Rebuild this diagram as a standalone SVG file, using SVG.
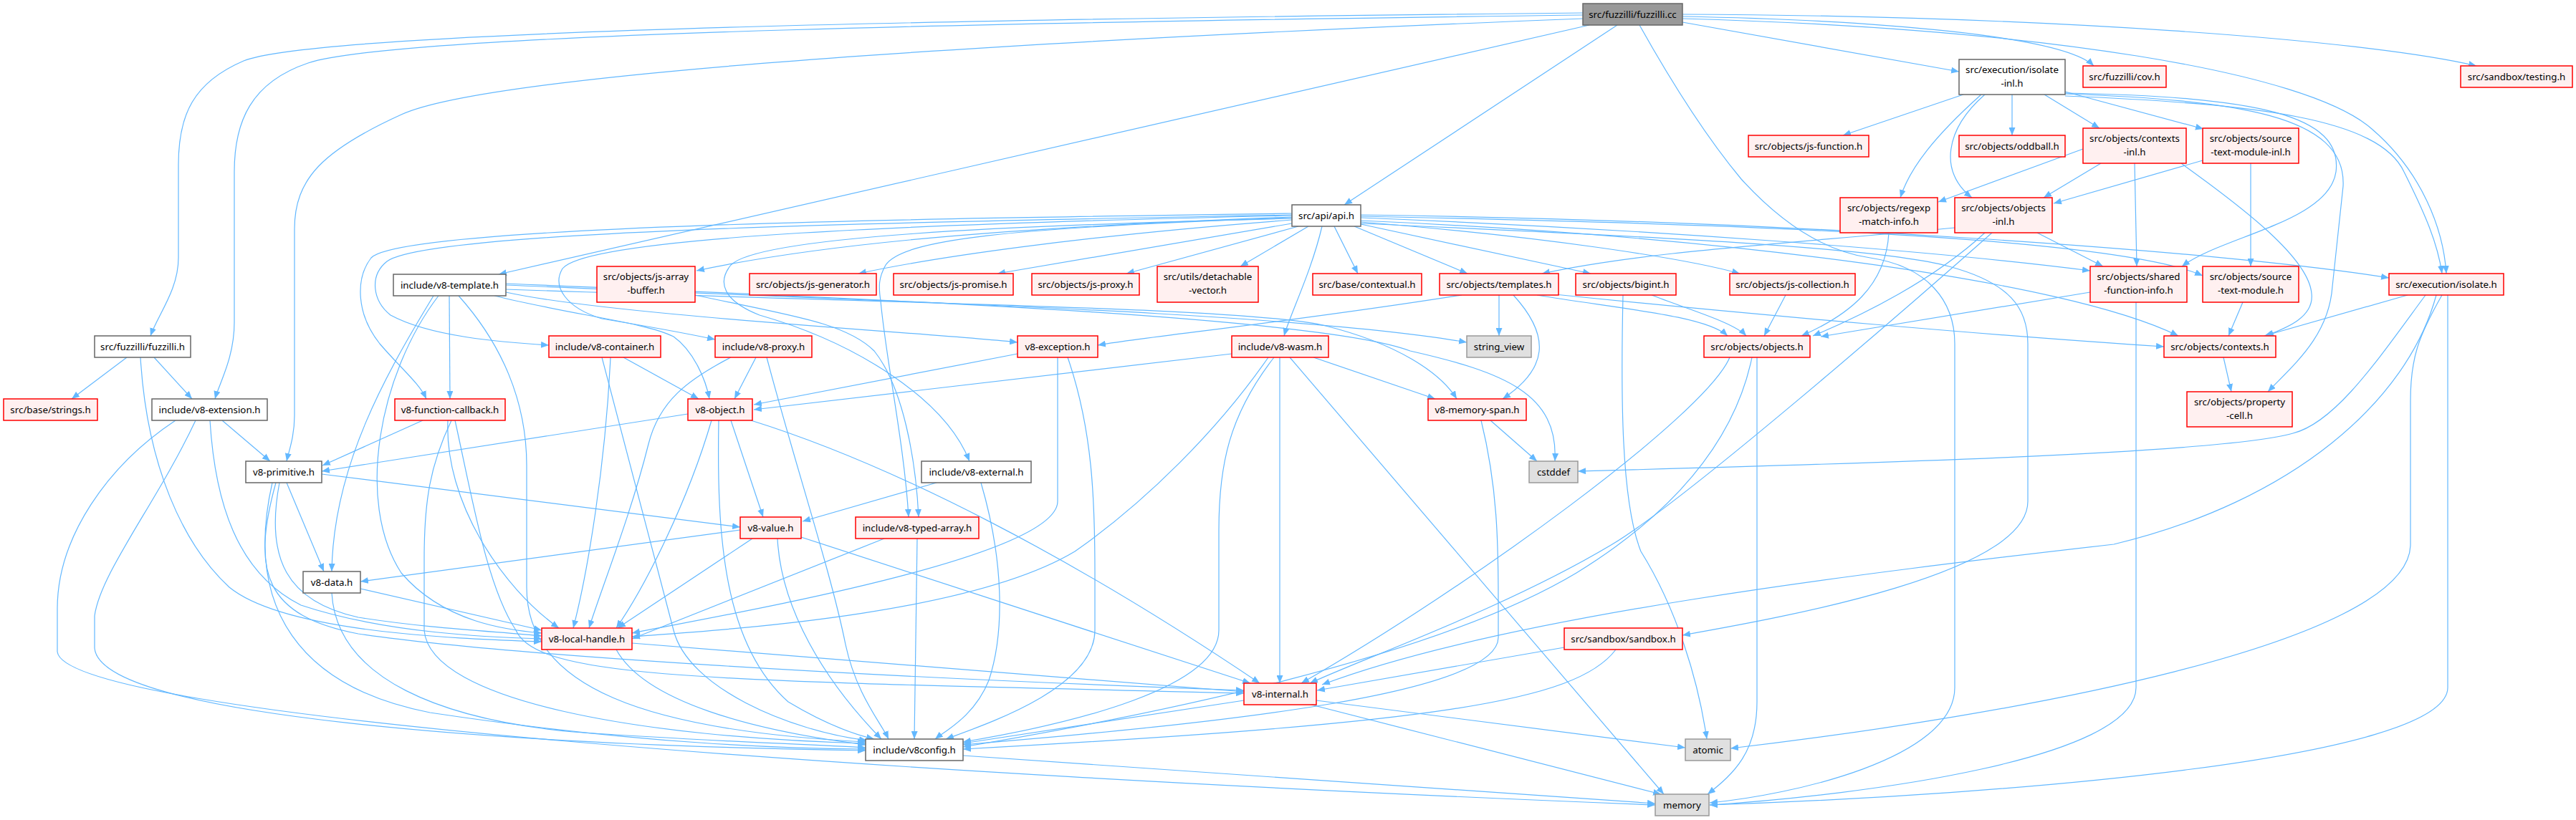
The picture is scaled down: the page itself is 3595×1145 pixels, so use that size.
<svg xmlns="http://www.w3.org/2000/svg" width="3595" height="1145" viewBox="0 0 3595 1145">
<style>
.node rect{stroke-width:1.5}
.root rect{fill:#999999;stroke:#666666}
.plain rect{fill:#ffffff;stroke:#666666}
.trunc rect{fill:#fff0f0;stroke:#ff0000}
.extn rect{fill:#e0e0e0;stroke:#999999}
text{font-family:"Noto Sans","DejaVu Sans",sans-serif;font-size:13.33px;text-anchor:middle;fill:#000000}
.e{fill:none;stroke:#63b8ff;stroke-width:1.2;marker-end:url(#a)}
</style>
<defs>
<marker id="a" viewBox="0 0 11 9" refX="11" refY="4.5" markerWidth="11" markerHeight="9" markerUnits="userSpaceOnUse" orient="auto"><path d="M0,0 L11,4.5 L0,9 z" fill="#63b8ff"/></marker>
</defs>
<rect x="0" y="0" width="3595" height="1145" fill="#ffffff"/>
<g id="edges">
<path class="e" d="M2209,18 C1500,25 450,40 340,85 C270,115 249,160 249,230 L249,360 C249,405 220,440 210,469"/>
<path class="e" d="M2209,21 C1500,30 560,45 430,88 C350,115 327,170 327,240 L327,450 C327,500 306,535 300,557"/>
<path class="e" d="M2209,26 C1600,50 700,95 560,160 C450,210 411,250 411,320 L411,580 C411,610 403,630 400,644"/>
<path class="e" d="M2218,35 L696,383"/>
<path class="e" d="M2257,35 L1876,286"/>
<path class="e" d="M2348,31 L2734,100"/>
<path class="e" d="M2348,23 C2620,28 2880,50 2922,92"/>
<path class="e" d="M2348,20 C2850,22 3300,55 3456,92"/>
<path class="e" d="M2348,26 C2850,40 3220,100 3310,180 C3380,240 3410,320 3414,382"/>
<path class="e" d="M2288,35 C2330,110 2380,190 2430,250 C2480,305 2540,350 2610,360 C2690,372 2728,420 2728,480 L2728,960 C2728,1060 2500,1110 2386,1121"/>
<path class="e" d="M2740,132 L2572,189"/>
<path class="e" d="M2808,132 L2808,189"/>
<path class="e" d="M2853,132 L2930,179"/>
<path class="e" d="M2882,128 L3075,180"/>
<path class="e" d="M2765,132 C2700,190 2665,235 2652,276"/>
<path class="e" d="M2770,132 C2715,180 2705,240 2752,276"/>
<path class="e" d="M2882,130 C3150,135 3270,160 3260,240 C3250,310 3100,330 3045,372"/>
<path class="e" d="M2882,131 C3120,140 3275,160 3270,260 L3255,400 C3250,470 3200,510 3165,547"/>
<path class="e" d="M2882,134 C3150,145 3320,165 3355,240 C3385,300 3402,340 3408,382"/>
<path class="e" d="M2907,208 L2705,282"/>
<path class="e" d="M2932,228 L2852,276"/>
<path class="e" d="M2979,228 L2982,372"/>
<path class="e" d="M3044,228 C3130,290 3222,360 3226,410 C3230,445 3185,460 3162,469"/>
<path class="e" d="M3074,224 L2866,284"/>
<path class="e" d="M3141,228 L3141,372"/>
<path class="e" d="M2636,325 C2632,400 2580,440 2514,469"/>
<path class="e" d="M2770,325 C2700,390 2600,440 2530,469"/>
<path class="e" d="M2843,325 L2935,372"/>
<path class="e" d="M2780,325 C2650,440 2350,700 2250,760 C2100,850 1900,920 1828,954"/>
<path class="e" d="M2728,318 C2500,340 2300,350 2152,382"/>
<path class="e" d="M1845,316 C1830,380 1800,440 1792,469"/>
<path class="e" d="M1862,316 L1895,382"/>
<path class="e" d="M1890,316 L2048,382"/>
<path class="e" d="M1899,313 L2220,382"/>
<path class="e" d="M1826,316 L1731,372"/>
<path class="e" d="M1812,316 L1572,382"/>
<path class="e" d="M1803,312 L1392,382"/>
<path class="e" d="M1803,307 C1500,330 1300,360 1198,382"/>
<path class="e" d="M1803,303 C1400,318 1150,340 972,378"/>
<path class="e" d="M1803,300 C1300,310 600,320 540,365 C515,385 520,420 545,440 C600,470 700,478 766,482"/>
<path class="e" d="M1803,298 C1300,305 560,315 518,360 C495,390 498,440 530,480 C560,515 585,535 595,557"/>
<path class="e" d="M1803,301 C1300,312 820,330 785,375 C770,400 790,430 840,445 C900,455 960,466 998,474"/>
<path class="e" d="M1803,305 C1400,315 1060,330 1020,370 C1000,395 1010,420 1060,440 C1200,480 1320,560 1353,644"/>
<path class="e" d="M1803,304 C1400,318 1260,335 1236,370 C1226,388 1226,400 1229,420 C1236,500 1262,620 1268,722"/>
<path class="e" d="M1899,310 C2150,330 2350,360 2428,382"/>
<path class="e" d="M1899,304 C2300,320 2700,350 2917,378"/>
<path class="e" d="M1899,302 C2400,312 2950,330 3074,385"/>
<path class="e" d="M1899,300 C2500,308 3100,350 3334,388"/>
<path class="e" d="M1899,308 C2400,330 2880,390 3040,469"/>
<path class="e" d="M1899,312 C2300,330 2620,345 2720,372 C2805,395 2830,430 2830,480 L2830,700 C2830,800 2500,860 2348,887"/>
<path class="e" d="M627,413 L628,557"/>
<path class="e" d="M605,413 C540,520 465,650 463,798"/>
<path class="e" d="M612,413 C530,520 495,700 560,800 C620,870 710,880 756,884"/>
<path class="e" d="M640,413 C700,480 735,560 735,650 L735,820 C735,960 900,1020 1208,1036"/>
<path class="e" d="M690,413 C800,440 900,450 940,470 C968,490 985,530 990,557"/>
<path class="e" d="M706,408 C850,440 1300,465 1420,478"/>
<path class="e" d="M706,404 C1300,425 1750,430 1850,455 C1950,480 2010,520 2033,557"/>
<path class="e" d="M706,398 C1200,420 1800,435 2047,478"/>
<path class="e" d="M706,396 C1300,420 1850,445 1968,490 C2100,520 2175,550 2170,644"/>
<path class="e" d="M177,499 L100,557"/>
<path class="e" d="M215,499 L268,557"/>
<path class="e" d="M196,499 C205,650 255,760 320,820 C400,885 650,892 756,896"/>
<path class="e" d="M310,587 L377,644"/>
<path class="e" d="M293,587 C300,700 330,800 420,845 C540,885 690,890 756,892"/>
<path class="e" d="M273,587 C220,700 140,800 132,860 L132,905 C140,1000 700,1040 1208,1048"/>
<path class="e" d="M245,587 C150,650 80,750 80,850 L80,910 C90,1000 1200,1080 2310,1124"/>
<path class="e" d="M590,587 L450,650"/>
<path class="e" d="M625,587 C620,700 700,820 780,877"/>
<path class="e" d="M630,587 C600,650 592,700 592,780 L592,880 C600,980 900,1030 1208,1038"/>
<path class="e" d="M635,587 C660,700 680,820 720,880 C750,950 1000,950 1736,968"/>
<path class="e" d="M960,578 L449,658"/>
<path class="e" d="M1020,587 L1065,722"/>
<path class="e" d="M993,587 C960,700 900,820 860,877"/>
<path class="e" d="M1003,587 C1000,750 1010,900 1100,980 C1150,1010 1190,1025 1220,1032"/>
<path class="e" d="M1048,587 C1250,650 1500,780 1758,954"/>
<path class="e" d="M449,662 L1033,736"/>
<path class="e" d="M400,674 L452,798"/>
<path class="e" d="M390,674 C370,780 400,840 500,862 C600,878 700,882 756,888"/>
<path class="e" d="M385,674 C350,800 370,860 500,885 C700,915 1200,945 1736,964"/>
<path class="e" d="M380,674 C340,850 420,960 600,995 C900,1040 1100,1045 1208,1046"/>
<path class="e" d="M1033,740 L503,812"/>
<path class="e" d="M1050,752 L862,877"/>
<path class="e" d="M1118,750 L1745,954"/>
<path class="e" d="M1085,752 C1090,850 1150,950 1230,1032"/>
<path class="e" d="M503,822 L756,880"/>
<path class="e" d="M463,828 C470,950 620,1005 800,1022 C1000,1036 1150,1040 1208,1044"/>
<path class="e" d="M882,898 L1736,966"/>
<path class="e" d="M860,907 C900,980 1050,1020 1208,1040"/>
<path class="e" d="M870,499 L975,557"/>
<path class="e" d="M852,499 C845,650 820,800 800,877"/>
<path class="e" d="M840,499 C880,650 920,800 940,880 C960,960 1100,1020 1210,1034"/>
<path class="e" d="M1055,499 L1025,557"/>
<path class="e" d="M1020,499 C960,530 920,560 905,620 C880,720 840,820 822,877"/>
<path class="e" d="M1070,499 C1110,650 1160,800 1180,900 C1195,970 1230,1010 1240,1032"/>
<path class="e" d="M1420,494 L1052,565"/>
<path class="e" d="M1476,499 L1476,700 C1476,780 1000,860 882,884"/>
<path class="e" d="M1490,499 C1525,600 1528,700 1528,800 L1528,880 C1528,960 1380,1010 1320,1032"/>
<path class="e" d="M1719,494 L1052,572"/>
<path class="e" d="M1770,499 C1700,600 1600,700 1500,770 C1350,860 1000,880 882,889"/>
<path class="e" d="M1778,499 C1715,580 1701,650 1701,740 L1701,880 C1701,960 1500,1010 1344,1036"/>
<path class="e" d="M1786,499 L1786,954"/>
<path class="e" d="M1800,499 L2322,1109"/>
<path class="e" d="M1833,499 L2003,557"/>
<path class="e" d="M2080,587 L2145,644"/>
<path class="e" d="M2067,587 C2090,680 2091,760 2091,840 L2091,890 C2091,970 1700,1010 1344,1040"/>
<path class="e" d="M2040,412 C1800,450 1600,470 1532,482"/>
<path class="e" d="M2092,412 L2092,469"/>
<path class="e" d="M2112,412 C2165,470 2160,515 2097,557"/>
<path class="e" d="M2145,412 C2250,430 2380,440 2411,469"/>
<path class="e" d="M2160,410 C2450,440 2800,470 3020,484"/>
<path class="e" d="M2265,412 C2262,550 2262,700 2290,770 C2340,850 2370,950 2382,1032"/>
<path class="e" d="M2305,412 C2350,430 2420,450 2437,469"/>
<path class="e" d="M2492,412 L2462,469"/>
<path class="e" d="M2917,408 L2541,470"/>
<path class="e" d="M2981,422 L2981,960 C2981,1060 2600,1110 2386,1124"/>
<path class="e" d="M3130,422 L3110,469"/>
<path class="e" d="M2414,499 C2380,580 2050,820 1816,954"/>
<path class="e" d="M2445,499 C2420,620 2330,720 2200,800 C2000,920 1600,1000 1344,1043"/>
<path class="e" d="M2452,499 L2452,980 C2452,1050 2420,1080 2383,1109"/>
<path class="e" d="M3103,499 L3114,547"/>
<path class="e" d="M3360,412 L3160,469"/>
<path class="e" d="M3385,412 C3320,500 3260,590 3200,605 C3100,635 2500,650 2202,658"/>
<path class="e" d="M3400,412 C3360,560 3200,700 2950,760 C2600,800 2100,860 1845,956"/>
<path class="e" d="M3408,412 C3375,470 3364,500 3364,560 L3364,760 C3364,900 2800,1000 2415,1045"/>
<path class="e" d="M3416,412 L3416,960 C3416,1060 2800,1110 2386,1124"/>
<path class="e" d="M2183,904 L1838,964"/>
<path class="e" d="M2255,907 C2200,980 2000,1010 1344,1046"/>
<path class="e" d="M1736,978 L1344,1038"/>
<path class="e" d="M1837,978 L2352,1044"/>
<path class="e" d="M1830,984 L2318,1109"/>
<path class="e" d="M1344,1055 L2310,1122"/>
<path class="e" d="M1307,674 L1120,728"/>
<path class="e" d="M1369,674 C1400,780 1403,880 1380,950 C1360,1000 1320,1020 1305,1032"/>
<path class="e" d="M1234,752 L882,892"/>
<path class="e" d="M1280,752 L1276,1032"/>
<path class="e" d="M970,412 C1100,440 1180,450 1220,490 C1260,540 1278,640 1282,722"/>
</g>
<g id="n_fuzzilli_cc" class="node root"><rect x="2209" y="5" width="139" height="30"/><text x="2278.5" y="24.7">src/fuzzilli/fuzzilli.cc</text></g>
<g id="n_isolate_inl" class="node plain"><rect x="2734" y="83" width="148" height="49"/><text x="2808" y="102">src/execution/isolate</text><text x="2808" y="120.5">-inl.h</text></g>
<g id="n_cov" class="node trunc"><rect x="2907" y="92" width="116" height="30"/><text x="2965" y="111.7">src/fuzzilli/cov.h</text></g>
<g id="n_testing" class="node trunc"><rect x="3434" y="92" width="156" height="30"/><text x="3512" y="111.7">src/sandbox/testing.h</text></g>
<g id="n_js_function" class="node trunc"><rect x="2440" y="189" width="168" height="30"/><text x="2524" y="208.7">src/objects/js-function.h</text></g>
<g id="n_oddball" class="node trunc"><rect x="2734" y="189" width="148" height="30"/><text x="2808" y="208.7">src/objects/oddball.h</text></g>
<g id="n_contexts_inl" class="node trunc"><rect x="2907" y="179" width="144" height="49"/><text x="2979" y="198">src/objects/contexts</text><text x="2979" y="216.5">-inl.h</text></g>
<g id="n_stm_inl" class="node trunc"><rect x="3074" y="179" width="134" height="49"/><text x="3141" y="198">src/objects/source</text><text x="3141" y="216.5">-text-module-inl.h</text></g>
<g id="n_api" class="node plain"><rect x="1803" y="286" width="96" height="30"/><text x="1851" y="305.7">src/api/api.h</text></g>
<g id="n_regexp" class="node trunc"><rect x="2568" y="276" width="136" height="49"/><text x="2636" y="295">src/objects/regexp</text><text x="2636" y="313.5">-match-info.h</text></g>
<g id="n_objects_inl" class="node trunc"><rect x="2728" y="276" width="136" height="49"/><text x="2796" y="295">src/objects/objects</text><text x="2796" y="313.5">-inl.h</text></g>
<g id="n_v8_template" class="node plain"><rect x="549" y="383" width="157" height="30"/><text x="627.5" y="402.7">include/v8-template.h</text></g>
<g id="n_js_array_buffer" class="node trunc"><rect x="833" y="372" width="137" height="50"/><text x="901.5" y="391">src/objects/js-array</text><text x="901.5" y="409.5">-buffer.h</text></g>
<g id="n_js_generator" class="node trunc"><rect x="1046" y="382" width="177" height="30"/><text x="1134.5" y="401.7">src/objects/js-generator.h</text></g>
<g id="n_js_promise" class="node trunc"><rect x="1247" y="382" width="167" height="30"/><text x="1330.5" y="401.7">src/objects/js-promise.h</text></g>
<g id="n_js_proxy" class="node trunc"><rect x="1440" y="382" width="150" height="30"/><text x="1515" y="401.7">src/objects/js-proxy.h</text></g>
<g id="n_detachable" class="node trunc"><rect x="1615" y="372" width="141" height="50"/><text x="1685.5" y="391">src/utils/detachable</text><text x="1685.5" y="409.5">-vector.h</text></g>
<g id="n_contextual" class="node trunc"><rect x="1832" y="382" width="152" height="30"/><text x="1908" y="401.7">src/base/contextual.h</text></g>
<g id="n_templates" class="node trunc"><rect x="2009" y="382" width="166" height="30"/><text x="2092" y="401.7">src/objects/templates.h</text></g>
<g id="n_bigint" class="node trunc"><rect x="2199" y="382" width="140" height="30"/><text x="2269" y="401.7">src/objects/bigint.h</text></g>
<g id="n_js_collection" class="node trunc"><rect x="2414" y="382" width="175" height="30"/><text x="2501.5" y="401.7">src/objects/js-collection.h</text></g>
<g id="n_sfi" class="node trunc"><rect x="2917" y="372" width="135" height="50"/><text x="2984.5" y="391">src/objects/shared</text><text x="2984.5" y="409.5">-function-info.h</text></g>
<g id="n_stm" class="node trunc"><rect x="3074" y="372" width="134" height="50"/><text x="3141" y="391">src/objects/source</text><text x="3141" y="409.5">-text-module.h</text></g>
<g id="n_isolate_h" class="node trunc"><rect x="3334" y="382" width="160" height="30"/><text x="3414" y="401.7">src/execution/isolate.h</text></g>
<g id="n_fuzzilli_h" class="node plain"><rect x="132" y="469" width="134" height="30"/><text x="199" y="488.7">src/fuzzilli/fuzzilli.h</text></g>
<g id="n_v8_container" class="node trunc"><rect x="766" y="469" width="156" height="30"/><text x="844" y="488.7">include/v8-container.h</text></g>
<g id="n_v8_proxy" class="node trunc"><rect x="998" y="469" width="135" height="30"/><text x="1065.5" y="488.7">include/v8-proxy.h</text></g>
<g id="n_v8_exception" class="node trunc"><rect x="1420" y="469" width="112" height="30"/><text x="1476" y="488.7">v8-exception.h</text></g>
<g id="n_v8_wasm" class="node trunc"><rect x="1719" y="469" width="135" height="30"/><text x="1786.5" y="488.7">include/v8-wasm.h</text></g>
<g id="n_string_view" class="node extn"><rect x="2047" y="469" width="90" height="30"/><text x="2092" y="488.7">string_view</text></g>
<g id="n_objects_h" class="node trunc"><rect x="2378" y="469" width="148" height="30"/><text x="2452" y="488.7">src/objects/objects.h</text></g>
<g id="n_contexts_h" class="node trunc"><rect x="3020" y="469" width="156" height="30"/><text x="3098" y="488.7">src/objects/contexts.h</text></g>
<g id="n_strings" class="node trunc"><rect x="5" y="557" width="131" height="30"/><text x="70.5" y="576.7">src/base/strings.h</text></g>
<g id="n_v8_extension" class="node plain"><rect x="212" y="557" width="161" height="30"/><text x="292.5" y="576.7">include/v8-extension.h</text></g>
<g id="n_v8_function_callback" class="node trunc"><rect x="551" y="557" width="154" height="30"/><text x="628" y="576.7">v8-function-callback.h</text></g>
<g id="n_v8_object" class="node trunc"><rect x="960" y="557" width="90" height="30"/><text x="1005" y="576.7">v8-object.h</text></g>
<g id="n_v8_memory_span" class="node trunc"><rect x="1993" y="557" width="137" height="30"/><text x="2061.5" y="576.7">v8-memory-span.h</text></g>
<g id="n_property_cell" class="node trunc"><rect x="3052" y="547" width="147" height="49"/><text x="3125.5" y="566">src/objects/property</text><text x="3125.5" y="584.5">-cell.h</text></g>
<g id="n_v8_primitive" class="node plain"><rect x="343" y="644" width="106" height="30"/><text x="396" y="663.7">v8-primitive.h</text></g>
<g id="n_v8_external" class="node plain"><rect x="1286" y="644" width="153" height="30"/><text x="1362.5" y="663.7">include/v8-external.h</text></g>
<g id="n_cstddef" class="node extn"><rect x="2134" y="644" width="68" height="30"/><text x="2168" y="663.7">cstddef</text></g>
<g id="n_v8_value" class="node trunc"><rect x="1033" y="722" width="85" height="30"/><text x="1075.5" y="741.7">v8-value.h</text></g>
<g id="n_v8_typed_array" class="node trunc"><rect x="1194" y="722" width="172" height="30"/><text x="1280" y="741.7">include/v8-typed-array.h</text></g>
<g id="n_v8_data" class="node plain"><rect x="423" y="798" width="80" height="30"/><text x="463" y="817.7">v8-data.h</text></g>
<g id="n_v8_local_handle" class="node trunc"><rect x="756" y="877" width="126" height="30"/><text x="819" y="896.7">v8-local-handle.h</text></g>
<g id="n_sandbox" class="node trunc"><rect x="2183" y="877" width="165" height="30"/><text x="2265.5" y="896.7">src/sandbox/sandbox.h</text></g>
<g id="n_v8_internal" class="node trunc"><rect x="1736" y="954" width="101" height="30"/><text x="1786.5" y="973.7">v8-internal.h</text></g>
<g id="n_v8config" class="node plain"><rect x="1208" y="1032" width="136" height="30"/><text x="1276" y="1051.7">include/v8config.h</text></g>
<g id="n_atomic" class="node extn"><rect x="2352" y="1032" width="63" height="30"/><text x="2383.5" y="1051.7">atomic</text></g>
<g id="n_memory" class="node extn"><rect x="2310" y="1109" width="75" height="30"/><text x="2347.5" y="1128.7">memory</text></g>
</svg>
